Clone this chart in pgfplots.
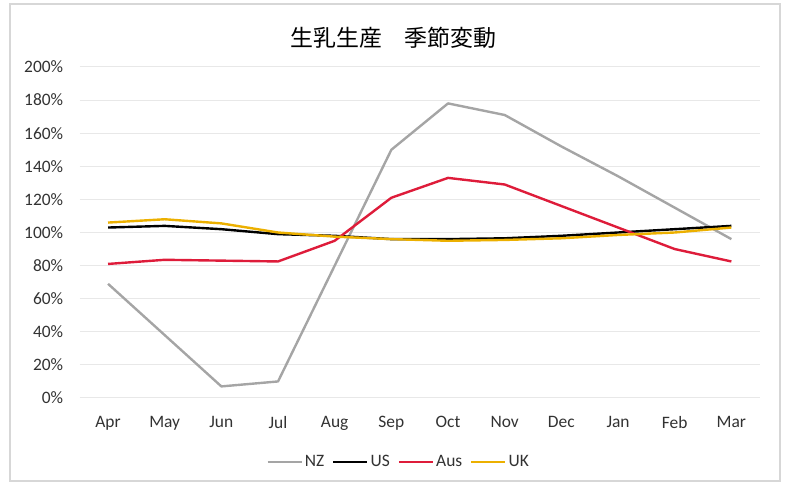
\documentclass[border=0pt]{standalone}
\usepackage{pgfplots}
\pgfplotsset{compat=1.18}
\usepackage{fontspec}
\setmainfont{Carlito}
\newfontfamily\cjk{Noto Sans CJK JP}
\definecolor{nzgray}{RGB}{165,165,165}
\definecolor{ausred}{RGB}{222,28,58}
\definecolor{ukgold}{RGB}{236,176,0}
\definecolor{gridgray}{RGB}{232,232,232}
\definecolor{framegray}{RGB}{215,215,215}
\definecolor{labelgray}{RGB}{50,50,50}
\begin{document}
\begin{tikzpicture}
\path[use as bounding box] (0bp,0bp) rectangle (787bp,485bp);
\draw[framegray, line width=1.2bp] (10bp,4bp) rectangle (780bp,481bp);
\node[font=\cjk\fontsize{23}{26}\selectfont, text=black] at (393.5bp,447bp) {生乳生産　季節変動};
\begin{axis}[
  at={(79.7bp,87bp)}, anchor=south west,
  scale only axis, width=680bp, height=331bp,
  xmin=-0.5, xmax=11.5, ymin=0, ymax=200,
  xtick={0,...,11},
  xticklabels={Apr,May,Jun,Jul,Aug,Sep,Oct,Nov,Dec,Jan,Feb,Mar},
  ytick={0,20,...,200},
  yticklabel={\pgfmathprintnumber{\tick}\%},
  axis line style={draw=none},
  major tick length=0pt,
  ymajorgrids, grid style={gridgray, line width=1bp},
  tick label style={font=\fontsize{17.5}{20}\selectfont, text=labelgray},
  /pgf/number format/assume math mode=true,
  yticklabel style={anchor=east, xshift=-13bp},
  xticklabel style={anchor=north, yshift=-15bp},
  legend columns=4,
  legend style={draw=none, at={(0.469,-0.193)}, anchor=center,
    font=\fontsize{17.5}{20}\selectfont, text=labelgray,
    /tikz/every even column/.append style={column sep=6bp}},
  legend image code/.code={\draw[#1] (0bp,0bp) -- (34bp,0bp);},
  every axis plot/.append style={line width=2.4bp, line join=round},
]
\addplot[nzgray] coordinates {(0,69) (1,38) (2,7) (3,10) (4,80) (5,150) (6,178) (7,171) (8,152) (9,134) (10,115) (11,96)};
\addlegendentry{NZ}
\addplot[black] coordinates {(0,103) (1,104) (2,102) (3,99) (4,98) (5,96) (6,96) (7,96.5) (8,98) (9,100) (10,102) (11,104)};
\addlegendentry{US}
\addplot[ausred] coordinates {(0,81) (1,83.5) (2,83) (3,82.5) (4,95) (5,121) (6,133) (7,129) (8,116) (9,103) (10,90) (11,82.5)};
\addlegendentry{Aus}
\addplot[ukgold] coordinates {(0,106) (1,108) (2,105.5) (3,100) (4,97.5) (5,96) (6,95) (7,95.5) (8,96.5) (9,98.5) (10,100) (11,103)};
\addlegendentry{UK}
\end{axis}
\end{tikzpicture}
\end{document}
